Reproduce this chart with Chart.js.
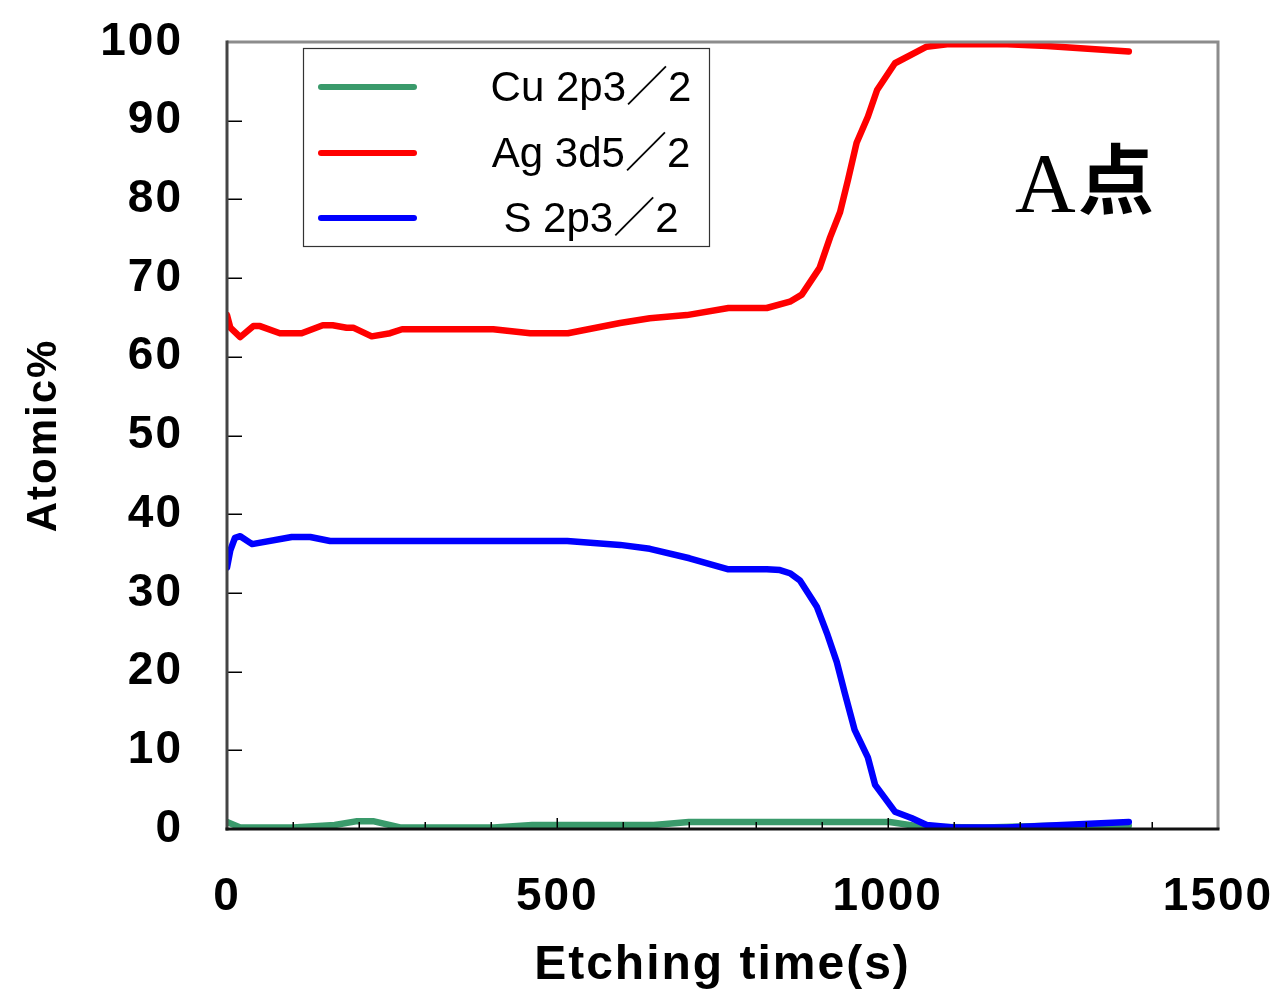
<!DOCTYPE html>
<html><head><meta charset="utf-8">
<script src="https://cdn.jsdelivr.net/npm/chart.js@4.4.1/dist/chart.umd.min.js"></script>
<style>html,body{margin:0;padding:0;background:#fff;overflow:hidden}</style>
</head><body>
<canvas id="c" width="1276" height="992"></canvas>
<script>
// ---- data ----
const seriesLabels = ['Cu 2p3／2', 'Ag 3d5／2', 'S 2p3／2'];
const seriesColors = ['#3a9a6b', '#ff0000', '#0000ff'];

const cuTime   = [0, 20, 100, 163, 197, 221, 262, 404, 462, 646, 699, 1003, 1050, 1147, 1244, 1365];
const cuAtomic = [0.9, 0.2, 0.2, 0.5, 1.0, 1.0, 0.2, 0.2, 0.5, 0.5, 0.9, 0.9, 0.3, 0.2, 0.4, 0.4];

const agTime   = [0, 5, 20, 40, 50, 80, 113, 145, 160, 181, 191, 219, 247, 265, 403, 459, 516, 595, 640, 696, 759, 817, 852, 870, 897, 913, 928, 940, 953, 970, 984, 1011, 1059, 1090, 1181, 1241, 1365];
const agAtomic = [65.3, 63.7, 62.5, 63.9, 63.9, 63.0, 63.0, 64.0, 64.0, 63.7, 63.7, 62.6, 63.0, 63.5, 63.5, 63.0, 63.0, 64.3, 64.9, 65.3, 66.2, 66.2, 67.0, 67.9, 71.3, 75.2, 78.4, 82.5, 87.2, 90.5, 93.9, 97.3, 99.4, 99.7, 99.7, 99.5, 98.8];

const sTime    = [0, 5, 12, 20, 38, 98, 126, 156, 515, 595, 640, 700, 759, 817, 837, 852, 867, 893, 908, 923, 935, 950, 970, 981, 1011, 1036, 1059, 1100, 1180, 1365];
const sAtomic  = [33.2, 35.4, 37.0, 37.2, 36.2, 37.1, 37.1, 36.6, 36.6, 36.1, 35.6, 34.4, 33.0, 33.0, 32.9, 32.5, 31.6, 28.2, 24.9, 21.2, 17.3, 12.6, 9.1, 5.6, 2.2, 1.4, 0.5, 0.2, 0.2, 0.9];

const xLabeledTicks = [0, 500, 1000, 1500];
const xTitle = 'Etching time(s)';
const yTitle = 'Atomic%';
const pointLabel = ['A', '点'];

function pts(t, v) { return t.map((x, i) => ({ x: x, y: v[i] })); }

// ---- plugins ----
const spacingPlugin = {
  id: 'spacing',
  beforeDraw(chart) { chart.ctx.letterSpacing = '2px'; }
};

const framePlugin = {
  id: 'frame',
  afterDatasetsDraw(chart) {
    const { ctx, chartArea: { left, right, top, bottom }, scales: { x, y } } = chart;
    ctx.save();
    ctx.lineCap = 'butt';
    ctx.strokeStyle = '#000';
    ctx.lineWidth = 1.5;
    y.ticks.forEach(t => {
      if (t.value <= 0 || t.value >= 100) return;
      const py = Math.round(y.getPixelForValue(t.value)) + 0.25;
      ctx.beginPath(); ctx.moveTo(left, py); ctx.lineTo(left + 15, py); ctx.stroke();
    });
    x.ticks.forEach(t => {
      if (t.value <= 0 || t.value >= 1500) return;
      const px = Math.round(x.getPixelForValue(t.value)) + 0.25;
      const len = (t.value % 500 === 0) ? 11 : 7;
      ctx.beginPath(); ctx.moveTo(px, bottom); ctx.lineTo(px, bottom - len); ctx.stroke();
    });
    ctx.lineWidth = 3;
    ctx.strokeStyle = '#8c8c8c';
    ctx.beginPath(); ctx.moveTo(left, top); ctx.lineTo(right, top); ctx.lineTo(right, bottom); ctx.stroke();
    ctx.strokeStyle = '#444';
    ctx.beginPath(); ctx.moveTo(left, top - 1.5); ctx.lineTo(left, bottom + 1.5); ctx.stroke();
    ctx.strokeStyle = '#111';
    ctx.beginPath(); ctx.moveTo(left - 1.5, bottom); ctx.lineTo(right + 1.5, bottom); ctx.stroke();
    ctx.restore();
  }
};

const legendPlugin = {
  id: 'boxLegend',
  afterDraw(chart) {
    const { ctx, chartArea: { left, top, right } } = chart;
    ctx.save();
    ctx.letterSpacing = '0px';
    const bx = left + 76, by = top + 6, bw = 406, bh = 198;
    ctx.fillStyle = '#fff';
    ctx.fillRect(bx, by, bw, bh);
    ctx.strokeStyle = '#333';
    ctx.lineWidth = 1.2;
    ctx.strokeRect(bx + 0.5, by + 0.5, bw, bh);
    const rows = [39, 105, 170];
    chart.data.datasets.forEach((ds, i) => {
      const ry = by + rows[i];
      ctx.strokeStyle = ds.borderColor;
      ctx.lineWidth = 6;
      ctx.lineCap = 'round';
      ctx.beginPath(); ctx.moveTo(bx + 18, ry); ctx.lineTo(bx + 111, ry); ctx.stroke();
      ctx.fillStyle = '#000';
      ctx.font = "42px 'Liberation Sans', 'Noto Sans CJK JP', sans-serif";
      ctx.textAlign = 'center';
      ctx.textBaseline = 'middle';
      ctx.fillText(ds.label, bx + 288, ry + 2);
    });
    // point label
    ctx.fillStyle = '#000';
    ctx.textAlign = 'left';
    ctx.textBaseline = 'alphabetic';
    ctx.font = "84px 'Liberation Serif', serif";
    const ax = right - 203;
    ctx.fillText(pointLabel[0], ax, top + 170);
    ctx.font = "bold 76px 'Noto Sans CJK JP', sans-serif";
    ctx.fillText(pointLabel[1], ax + 63, top + 166);
    ctx.restore();
  }
};

Chart.defaults.font.family = "'Liberation Sans', Arial, sans-serif";
Chart.defaults.color = '#000';

new Chart(document.getElementById('c'), {
  type: 'line',
  data: {
    datasets: [
      { label: seriesLabels[0], data: pts(cuTime, cuAtomic), borderColor: seriesColors[0], order: 3 },
      { label: seriesLabels[1], data: pts(agTime, agAtomic), borderColor: seriesColors[1], order: 2 },
      { label: seriesLabels[2], data: pts(sTime, sAtomic), borderColor: seriesColors[2], order: 1 }
    ]
  },
  options: {
    responsive: false,
    animation: false,
    devicePixelRatio: 1,
    elements: {
      line: { borderWidth: 6.5, tension: 0, borderJoinStyle: 'round', borderCapStyle: 'round', fill: false },
      point: { radius: 0, hoverRadius: 0 }
    },
    layout: { padding: { top: 42, right: 58, left: 0, bottom: 0 } },
    plugins: { legend: { display: false }, tooltip: { enabled: false } },
    scales: {
      x: {
        type: 'linear', min: 0, max: 1500,
        grid: { display: false, drawTicks: false },
        border: { display: false },
        afterFit(s) { s.height = 163; s.paddingLeft = 0; s.paddingRight = 0; s.paddingTop = 0; s.paddingBottom = 0; },
        ticks: {
          stepSize: 100, autoSkip: false, maxRotation: 0, padding: 45,
          font: { size: 46, weight: 'bold', lineHeight: 1 },
          callback: (v) => xLabeledTicks.includes(v) ? String(v) : ''
        },
        title: { display: true, text: xTitle, font: { size: 48, weight: 'bold', lineHeight: 1 }, padding: { top: 0, bottom: 2 } }
      },
      y: {
        min: 0, max: 100,
        grid: { display: false, drawTicks: false },
        border: { display: false },
        afterFit(s) { s.width = 227; s.paddingLeft = 0; s.paddingRight = 0; s.paddingTop = 0; s.paddingBottom = 0; },
        ticks: { stepSize: 10, padding: 44, font: { size: 46, weight: 'bold', lineHeight: 1 } },
        title: { display: true, text: yTitle, font: { size: 42, weight: 'bold', lineHeight: 1.2 }, padding: { top: 19, bottom: 0 } }
      }
    }
  },
  plugins: [spacingPlugin, framePlugin, legendPlugin]
});
</script>
</body></html>
